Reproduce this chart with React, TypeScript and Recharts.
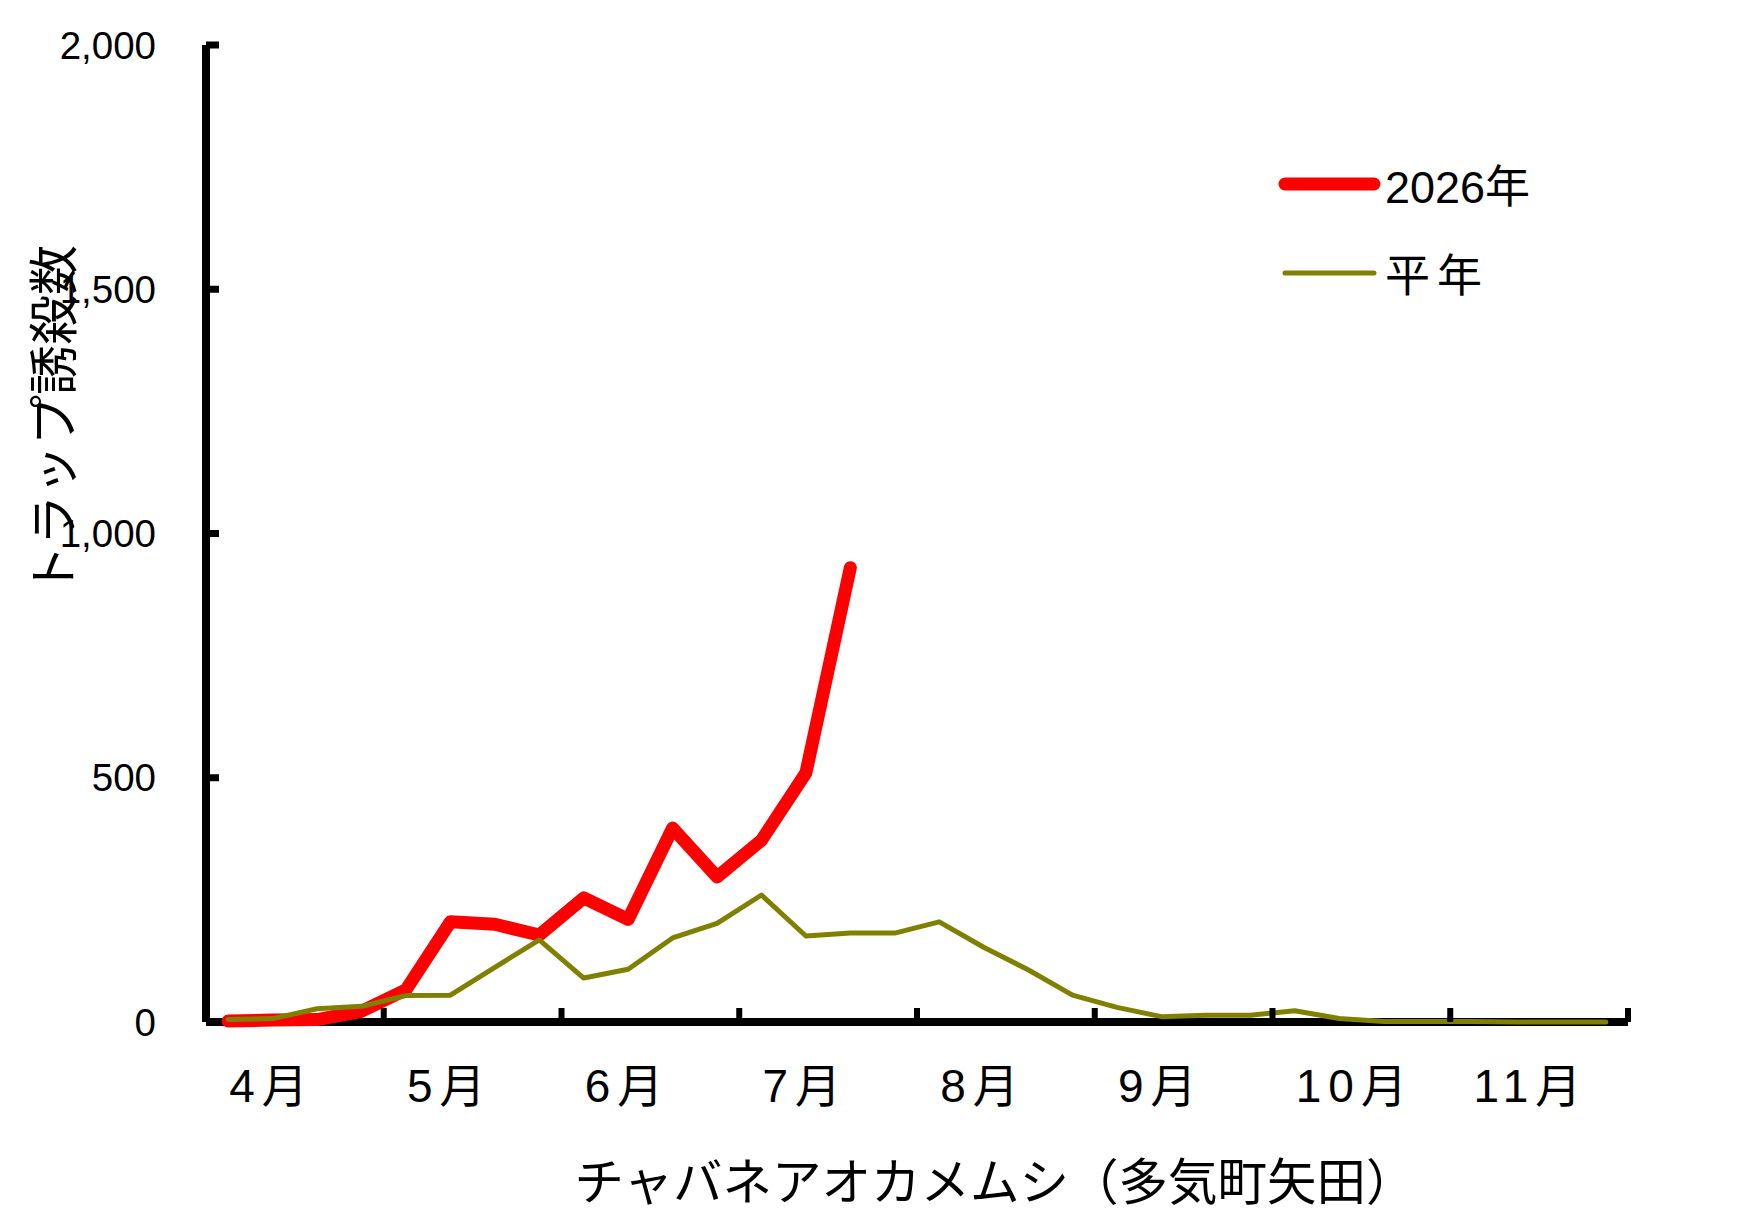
import {Label, Legend, Line, LineChart, XAxis, YAxis} from 'recharts';

const months = ['4月', '5月', '6月', '7月', '8月', '9月', '10月', '11月'];
const weeks = ['1', '2', '3', '4'];
const periods = months.flatMap(m => weeks.map(w => `${m}${w}`));

// trap counts, 2026 (through mid July) and the normal year
const counts2026 = [2, 4, 5, 22, 66, 205, 200, 178, 254, 210, 397, 297, 372, 510, 930];
const countsNormal = [5, 7, 27, 32, 54, 55, 112, 168, 90, 108, 172, 202, 260, 176, 182, 182,
    205, 153, 107, 55, 30, 11, 14, 14, 23, 7, 1, 1, 1, 0, 0, 0];
const yTicks = [0, 500, 1000, 1500, 2000];

const data = periods.map((p, i) => ({
    period: p,
    y2026: i < counts2026.length ? counts2026[i] : null,
    normal: countsNormal[i],
}));

const W = 1744;
const H = 1227;
const PLOT_LEFT = 206;
const PLOT_RIGHT = 1628;
const PLOT_TOP = 45;
const PLOT_BOTTOM = 1022;
const BAND = (PLOT_RIGHT - PLOT_LEFT) / periods.length;

const NUM_FONT = '"Liberation Sans", Arial, "Noto Sans CJK JP", sans-serif';
const JP_FONT = '"Noto Sans CJK JP", sans-serif';

const strokeWidths: Record<string, number> = {y2026: 13, normal: 5};

const YTick = (props: any) => {
    const {x, y, payload} = props;
    return (
        <g>
            <line x1={x} x2={x + 13} y1={y} y2={y} stroke="#000" strokeWidth={7}/>
            <text x={x - 50} y={y} textAnchor="end" dominantBaseline="central" fontSize={38.5}
                  fontFamily={NUM_FONT} fill="#000">
                {payload.value.toLocaleString('en-US')}
            </text>
        </g>
    );
};

const MonthTick = (props: any) => {
    const {x, y, index} = props;
    const half = BAND / 2;
    const first = index % weeks.length === 0;
    const last = index === periods.length - 1;
    return (
        <g>
            {first && (
                <>
                    <line x1={x - half} x2={x - half} y1={y} y2={y - 14} stroke="#000" strokeWidth={6}/>
                    <text x={x + 1} y={y + 64} dominantBaseline="central" fontSize={46} letterSpacing={7}
                          fontFamily={NUM_FONT} fill="#000">
                        {months[index / weeks.length]}
                    </text>
                </>
            )}
            {last && <line x1={x + half} x2={x + half} y1={y} y2={y - 14} stroke="#000" strokeWidth={6}/>}
        </g>
    );
};

const renderLegend = (props: any) => {
    const {payload = []} = props;
    return (
        <svg width={330} height={180}>
            {payload.map((entry: any, i: number) => {
                const cy = 44 + i * 89;
                return (
                    <g key={entry.value}>
                        <line x1={10} x2={99} y1={cy} y2={cy} stroke={entry.color}
                              strokeWidth={strokeWidths[entry.dataKey] ?? 5} strokeLinecap="round"/>
                        <text x={110} y={cy + 3} dominantBaseline="central" fontSize={45}
                              letterSpacing={i === 1 ? 7 : 0} fontFamily={NUM_FONT} fill="#000">
                            {entry.value}
                        </text>
                    </g>
                );
            })}
        </svg>
    );
};

export default function App() {
    return (
        <div style={{position: 'absolute', left: 0, top: 0, background: '#fff'}}>
            <LineChart width={W} height={H} data={data}
                       margin={{top: PLOT_TOP, right: W - PLOT_RIGHT, left: 0, bottom: 0}}>
                <XAxis dataKey="period" scale="band" interval={0} height={H - PLOT_BOTTOM} tickSize={0}
                       tickMargin={0} tickLine={false} axisLine={{stroke: '#000', strokeWidth: 8}}
                       tick={<MonthTick/>}>
                    <Label content={() => (
                        <text x={995} y={1178} textAnchor="middle" dominantBaseline="central" fontSize={49.5}
                              fontFamily={JP_FONT} fill="#000">
                            チャバネアオカメムシ（多気町矢田）
                        </text>
                    )}/>
                </XAxis>
                <YAxis domain={[0, 2000]} ticks={yTicks} width={PLOT_LEFT} tickSize={0} tickMargin={0}
                       tickLine={false} axisLine={{stroke: '#000', strokeWidth: 8}} tick={<YTick/>}>
                    <Label content={() => (
                        <text x={50} y={420} transform="rotate(-90 50 420)" textAnchor="middle"
                              dominantBaseline="central" fontSize={50} fontFamily={JP_FONT} fill="#000">
                            トラップ誘殺数
                        </text>
                    )}/>
                </YAxis>
                <Legend layout="vertical" align="center" verticalAlign="middle" content={renderLegend}
                        wrapperStyle={{left: 1275, top: 140, width: 330, height: 180}}/>
                <Line dataKey="y2026" name="2026年" stroke="#ff0000" strokeWidth={13} dot={false}
                      strokeLinejoin="round" strokeLinecap="round" isAnimationActive={false} zIndex={600}/>
                <Line dataKey="normal" name="平年" stroke="#808000" strokeWidth={5} dot={false}
                      strokeLinejoin="round" strokeLinecap="round" isAnimationActive={false} zIndex={610}/>
            </LineChart>
        </div>
    );
}
